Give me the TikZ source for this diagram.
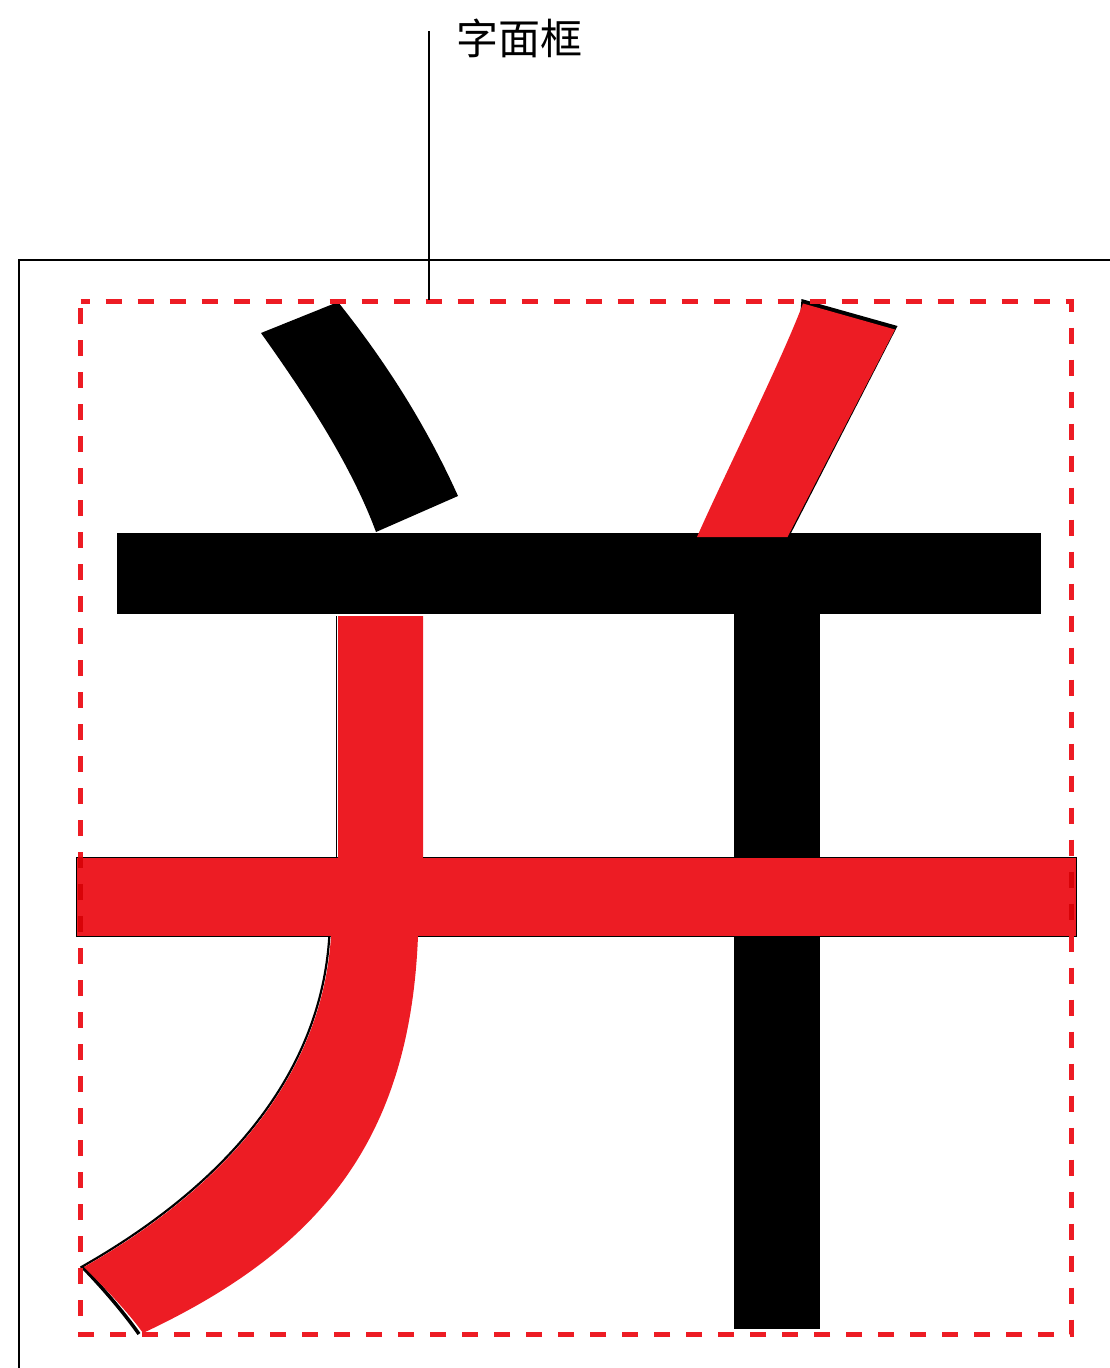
\documentclass[tikz,border=0pt]{standalone}
\usepackage{fontspec}
\newfontfamily\cjk{Noto Sans CJK SC}
\definecolor{strokered}{HTML}{ED1C24}
\definecolor{darkred}{HTML}{D80308}
\begin{document}
\begin{tikzpicture}[x=1pt,y=-1pt,
  frameline/.style={draw=black,line width=2.6pt},
  faceframe/.style={draw=strokered,line width=5pt,dash pattern=on 16pt off 16pt,dash phase=7pt},
  blackstroke/.style={fill=black},
  redstroke/.style={fill=strokered},
  edgeline/.style={draw=black,line width=1.8pt},
  labeltext/.style={font=\cjk\fontsize{42}{42}\selectfont,inner sep=0pt}]
\useasboundingbox (0,0) rectangle (1110,1368);
% outer frame
\draw[frameline] (19,1368) -- (19,260) -- (1110,260);
% horizontal black bar
\fill[blackstroke] (117,533) rectangle (1041,614);
% top-left dot stroke
\fill[blackstroke] (261,333) -- (338,302) .. controls (390,367) and (428.7,431) .. (458,496)
  -- (376,532) .. controls (351.6,466) and (308,399) .. (261,333) -- cycle;
% top-right red stroke
\fill[black] (801.5,299) -- (897.5,326) -- (789,537) -- (782,537) -- cycle;
\fill[redstroke] (803,303.5) -- (895,329.5) -- (787.5,537) -- (697,537)
  .. controls (722,480) and (781,362) .. (803,303.5) -- cycle;
% right vertical black
\fill[blackstroke] (734,614) rectangle (820,1329);
% red lower horizontal
\filldraw[fill=strokered,draw=black,line width=1pt] (76,857) rectangle (1076,936);
% red left vertical + curve
\draw[edgeline] (336.5,616) -- (336.5,857);
\draw[edgeline,line width=2.2pt] (329.3,936.5) .. controls (320.5,1080) and (218.5,1189.5) .. (80.5,1267.5);
\draw[black,line width=3.5pt] (82.5,1267) .. controls (100,1285) and (122,1310) .. (139,1334);
\fill[redstroke] (338,616) -- (423,616) -- (423,857) -- (418,936)
  .. controls (410,1140) and (320,1250) .. (143,1333)
  .. controls (128,1312) and (104,1287) .. (84,1267)
  .. controls (220,1190) and (322,1080) .. (331,936) -- (338,857) -- cycle;
% face frame (dashed)
\draw[faceframe] (80.5,301) -- (1071,301) -- (1071,1334.5) -- (80.5,1334.5) -- cycle;
\begin{scope}
\clip (76,857.5) rectangle (1076,935.5);
\draw[faceframe,draw=darkred] (80.5,301) -- (1071,301) -- (1071,1334.5) -- (80.5,1334.5) -- cycle;
\end{scope}
% label and leader
\node[labeltext] (lbl) at (519,38) {字面框};
\coordinate (leadtop) at (429,31);
\coordinate (leadbot) at (429,300);
\draw[black,line width=2.4pt] (leadtop) -- (leadbot);
\end{tikzpicture}
\end{document}
